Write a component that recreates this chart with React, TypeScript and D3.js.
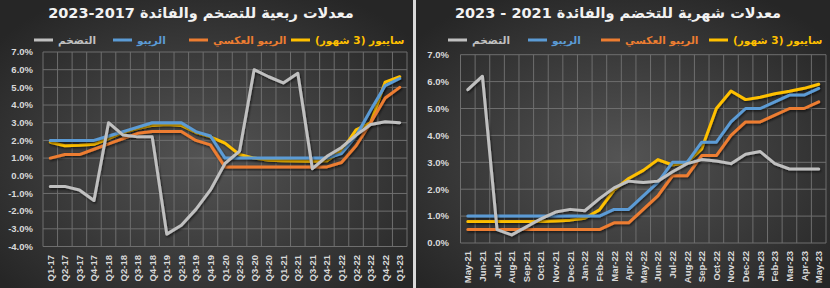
import React, { useEffect, useRef } from "react";
import * as d3 from "d3";

const quarters = ["Q1-17","Q2-17","Q3-17","Q4-17","Q1-18","Q2-18","Q3-18","Q4-18","Q1-19","Q2-19","Q3-19","Q4-19","Q1-20","Q2-20","Q3-20","Q4-20","Q1-21","Q2-21","Q3-21","Q4-21","Q1-22","Q2-22","Q3-22","Q4-22","Q1-23"];
const inflationQ = [-0.6,-0.6,-0.8,-1.4,3.0,2.3,2.2,2.2,-3.3,-2.8,-1.9,-0.8,0.7,1.4,6.0,5.6,5.25,5.8,0.4,1.1,1.6,2.3,2.9,3.05,3.0];
const repoQ = [2.0,2.0,2.0,2.0,2.25,2.5,2.75,3.0,3.0,3.0,2.5,2.25,1.0,1.0,1.0,1.0,1.0,1.0,1.0,1.0,1.25,2.25,3.7,5.1,5.5];
const reverseRepoQ = [1.0,1.2,1.2,1.5,1.8,2.1,2.4,2.5,2.5,2.5,2.0,1.75,0.5,0.5,0.5,0.5,0.5,0.5,0.5,0.5,0.75,1.7,3.0,4.4,5.0];
const saiborQ = [1.9,1.7,1.72,1.78,2.1,2.45,2.67,2.85,2.9,2.85,2.45,2.2,1.85,1.2,1.0,0.88,0.85,0.83,0.82,0.85,1.4,2.6,3.0,5.3,5.6];

const months = ["May-21","Jun-21","Jul-21","Aug-21","Sep-21","Oct-21","Nov-21","Dec-21","Jan-22","Feb-22","Mar-22","Apr-22","May-22","Jun-22","Jul-22","Aug-22","Sep-22","Oct-22","Nov-22","Dec-22","Jan-23","Feb-23","Mar-23","Apr-23","May-23"];
const inflationM = [5.7,6.2,0.5,0.3,0.6,0.9,1.15,1.25,1.2,1.65,2.05,2.3,2.25,2.3,2.65,2.95,3.1,3.05,2.95,3.3,3.4,2.95,2.75,2.75,2.75];
const repoM = [1,1,1,1,1,1,1,1,1,1,1.25,1.25,1.75,2.25,3.0,3.0,3.75,3.75,4.5,5.0,5.0,5.25,5.5,5.5,5.75];
const reverseRepoM = [0.5,0.5,0.5,0.5,0.5,0.5,0.5,0.5,0.5,0.5,0.75,0.75,1.25,1.75,2.5,2.5,3.25,3.25,4.0,4.5,4.5,4.75,5.0,5.0,5.25];
const saiborM = [0.8,0.8,0.8,0.8,0.8,0.8,0.82,0.85,0.92,1.23,1.97,2.4,2.7,3.1,2.9,3.0,3.5,5.0,5.65,5.33,5.42,5.55,5.64,5.75,5.9];

const seriesNames = ["التضخم", "الريبو", "الريبو العكسي", "سايبور (3 شهور)"];
const seriesColors = ["#c0c0c0", "#5b9bd5", "#ed7d31", "#ffc000"];
const titleLeft = "معدلات ربعية للتضخم والفائدة 2017-2023";
const titleRight = "معدلات شهرية للتخضم والفائدة 2021 - 2023";
const yTicksLeft = [-4, -3, -2, -1, 0, 1, 2, 3, 4, 5, 6, 7];
const yTicksRight = [0, 1, 2, 3, 4, 5, 6, 7];

const W = 830;
const H = 288;
const NUM_FONT = "'Liberation Sans', Arial, sans-serif";
const AR_FONT = "'DejaVu Sans', 'Liberation Sans', sans-serif";

export default function App() {
  const ref = useRef<SVGSVGElement | null>(null);

  useEffect(() => {
    const svg = d3.select(ref.current);
    svg.selectAll("*").remove();
    const defs = svg.append("defs");
    const grad = defs.append("radialGradient").attr("id", "bg").attr("cx", "50%").attr("cy", "55%").attr("r", "65%");
    grad.append("stop").attr("offset", "0%").attr("stop-color", "#545454");
    grad.append("stop").attr("offset", "100%").attr("stop-color", "#262626");
    const f = defs.append("filter").attr("id", "sh").attr("x", "-5%").attr("y", "-5%").attr("width", "110%").attr("height", "110%");
    f.append("feDropShadow").attr("dx", 1).attr("dy", 1.5).attr("stdDeviation", 1).attr("flood-color", "#000").attr("flood-opacity", 0.6);

    svg.append("rect").attr("x", 0).attr("y", 0).attr("width", W).attr("height", H).attr("fill", "#d9d9d9");

    const panels = [
      { x0: 0, w: 413, l: 43, r: 407, t: 52, b: 246.5, domain: [-4, 7], ticks: yTicksLeft, labels: quarters,
        data: [inflationQ, repoQ, reverseRepoQ, saiborQ], title: titleLeft, titleX: 201,
        legendStarts: [58, 137, 213, 315], yLabelX: 33, xLabelTop: 255 },
      { x0: 416, w: 414, l: 460.5, r: 826, t: 54.7, b: 243, domain: [0, 7], ticks: yTicksRight, labels: months,
        data: [inflationM, repoM, reverseRepoM, saiborM], title: titleRight, titleX: 618,
        legendStarts: [472, 552, 625, 733], yLabelX: 449, xLabelTop: 251 },
    ];

    panels.forEach((p) => {
      const g = svg.append("g");
      g.append("rect").attr("x", p.x0).attr("y", 0).attr("width", p.w).attr("height", H).attr("fill", "url(#bg)");
      const x = d3.scaleBand<string>().domain(p.labels).range([p.l, p.r]);
      const y = d3.scaleLinear().domain(p.domain).range([p.b, p.t]);
      const cx = (lab: string) => (x(lab) as number) + x.bandwidth() / 2;

      // grid
      g.append("g").selectAll("line").data(p.ticks).join("line")
        .attr("x1", p.l).attr("x2", p.r).attr("y1", (d) => y(d)).attr("y2", (d) => y(d))
        .attr("stroke", "#6e6e6e").attr("stroke-width", 1);
      const bounds = d3.range(p.labels.length + 1);
      g.append("g").selectAll("line").data(bounds).join("line")
        .attr("x1", (i) => p.l + i * x.step()).attr("x2", (i) => p.l + i * x.step())
        .attr("y1", p.t).attr("y2", p.b)
        .attr("stroke", "#6e6e6e").attr("stroke-width", 1);

      // y labels
      g.append("g").selectAll("text").data(p.ticks).join("text")
        .attr("x", p.yLabelX).attr("y", (d) => y(d)).attr("dy", "0.35em")
        .attr("text-anchor", "end").attr("font-family", NUM_FONT).attr("font-weight", "bold")
        .attr("font-size", 9.5).attr("fill", "#d9d9d9")
        .text((d) => `${d.toFixed(1)}%`);

      // x labels
      g.append("g").selectAll("text").data(p.labels).join("text")
        .attr("transform", (d) => `translate(${cx(d)},${p.xLabelTop}) rotate(-90)`)
        .attr("text-anchor", "end").attr("dominant-baseline", "central")
        .attr("font-family", NUM_FONT).attr("font-weight", "bold").attr("font-size", 9.5).attr("fill", "#d9d9d9")
        .text((d) => d);

      // lines (draw order: saibor, reverse, repo, inflation)
      const order = [3, 2, 1, 0];
      order.forEach((si) => {
        const vals = p.data[si];
        const line = d3.line<number>().x((_, i) => cx(p.labels[i])).y((v) => y(v));
        g.append("path").attr("d", line(vals) as string).attr("fill", "none")
          .attr("stroke", seriesColors[si]).attr("stroke-width", 3)
          .attr("stroke-linejoin", "round").attr("stroke-linecap", "round")
          .attr("filter", "url(#sh)");
      });

      // title
      g.append("text").attr("x", p.titleX).attr("y", 13).attr("dy", "0.35em")
        .attr("text-anchor", "middle").attr("direction", "rtl")
        .attr("font-family", AR_FONT).attr("font-weight", "bold").attr("font-size", 14.5)
        .attr("fill", "#f2f2f2").text(p.title);

      // legend
      const ly = 40;
      seriesNames.forEach((name, i) => {
        const start = p.legendStarts[i];
        const t = g.append("text").attr("x", start).attr("y", ly).attr("dy", "0.35em")
          .attr("text-anchor", "middle").attr("direction", "rtl")
          .attr("font-family", AR_FONT).attr("font-weight", "bold").attr("font-size", 10.5)
          .attr("fill", seriesColors[i]).text(name);
        const node = t.node() as SVGTextElement;
        const wdt = node.getComputedTextLength();
        t.attr("x", start + wdt / 2);
        g.append("line").attr("x1", start - 24).attr("x2", start - 5).attr("y1", ly).attr("y2", ly)
          .attr("stroke", seriesColors[i]).attr("stroke-width", 3);
      });
    });
  }, []);

  return (
    <svg
      ref={ref}
      width={W}
      height={H}
      style={{ position: "absolute", left: 0, top: 0, display: "block" }}
    />
  );
}
